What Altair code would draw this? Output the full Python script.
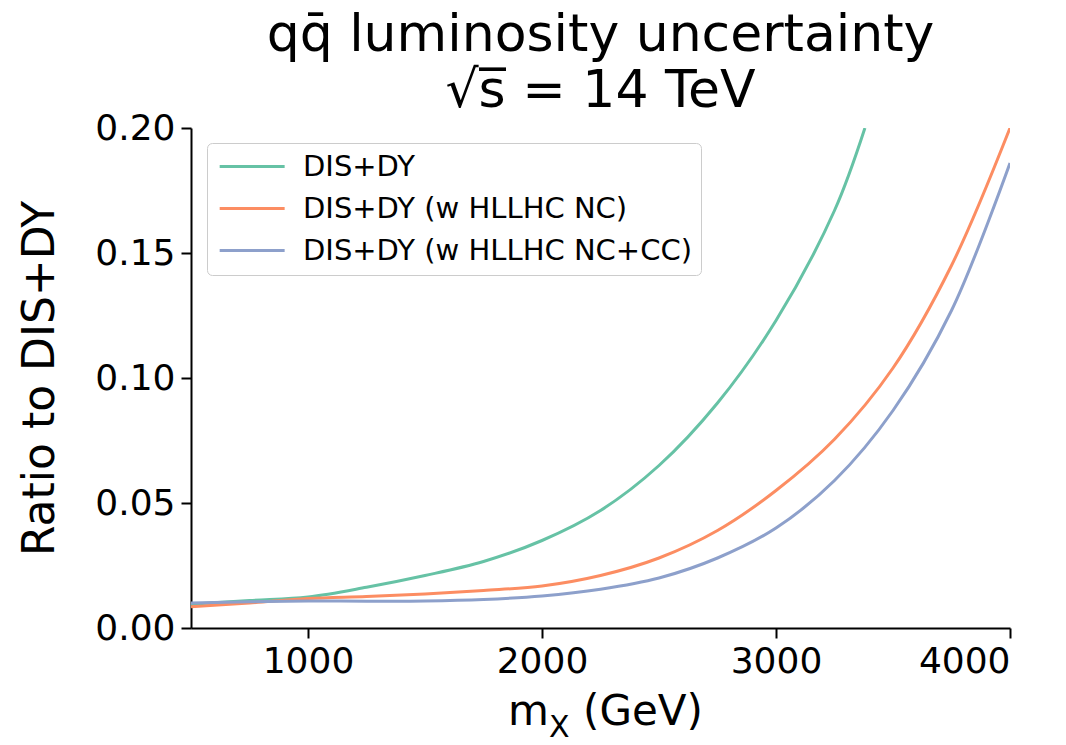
import altair as alt
import pandas as pd

# --- data ---
mass = [500, 750, 1000, 1250, 1500, 1750, 2000, 2250, 2500, 2750, 3000, 3250, 3500, 3750, 4000]
mass_dis = [500, 750, 1000, 1250, 1500, 1750, 2000, 2250, 2500, 2750, 3000, 3250, 3380]
dis_dy = [0.0095, 0.0110, 0.0124, 0.0163, 0.0210, 0.0266, 0.0350, 0.0470, 0.0650, 0.0900, 0.1230, 0.1670, 0.2000]
dis_dy_nc = [0.0085, 0.0100, 0.0118, 0.0126, 0.0136, 0.0150, 0.0168, 0.0210, 0.0280, 0.0390, 0.0550, 0.0755, 0.1040, 0.1450, 0.2000]
dis_dy_nccc = [0.0100, 0.0105, 0.0108, 0.0107, 0.0108, 0.0114, 0.0128, 0.0155, 0.0200, 0.0280, 0.0400, 0.0590, 0.0870, 0.1270, 0.1860]

series = ["DIS+DY", "DIS+DY (w HLLHC NC)", "DIS+DY (w HLLHC NC+CC)"]
colors = ["#66c2a5", "#fc8d62", "#8da0cb"]
x_ticks = [1000, 2000, 3000, 4000]
y_ticks = [0.0, 0.05, 0.10, 0.15, 0.20]
title_lines = ["qq̄ luminosity uncertainty", "√s̅ = 14 TeV"]
x_title_parts = ["m", "X", "(GeV)"]

rows = []
for m, v in zip(mass_dis, dis_dy):
    rows.append({"m": m, "v": v, "s": series[0]})
for m, v in zip(mass, dis_dy_nc):
    rows.append({"m": m, "v": v, "s": series[1]})
for m, v in zip(mass, dis_dy_nccc):
    rows.append({"m": m, "v": v, "s": series[2]})
df = pd.DataFrame(rows)

FONT = "DejaVu Sans"
W, H = 819, 500

lines = alt.Chart(df).mark_line(strokeWidth=3, interpolate="catmull-rom", clip=True).encode(
    x=alt.X("m:Q",
            scale=alt.Scale(domain=[500, 4000], nice=False, zero=False),
            axis=alt.Axis(values=x_ticks, format="d", title=None, labelPadding=6)),
    y=alt.Y("v:Q",
            scale=alt.Scale(domain=[0, 0.2], nice=False),
            axis=alt.Axis(values=y_ticks, format=".2f", title="Ratio to DIS+DY",
                          labelPadding=6, titlePadding=32)),
    color=alt.Color("s:N",
                    scale=alt.Scale(domain=series, range=colors),
                    legend=alt.Legend(title=None, orient="none", legendX=16, legendY=15,
                                      symbolType="M-1,0H5", symbolSize=469,
                                      symbolStrokeWidth=3, labelFont=FONT,
                                      labelFontSize=29, labelColor="black",
                                      strokeColor="#cccccc", fillColor="white",
                                      cornerRadius=5, padding=9, rowPadding=12,
                                      labelOffset=58, labelLimit=0)),
)

def title_part(txt, x, y, size):
    return alt.Chart(pd.DataFrame({"t": [txt]})).mark_text(
        align="left", baseline="alphabetic", font=FONT, fontSize=size, color="black"
    ).encode(x=alt.value(x), y=alt.value(y), text="t:N")

xt = (title_part(x_title_parts[0], 317, 597, 42)
      + title_part(x_title_parts[1], 358, 609, 30)
      + title_part(x_title_parts[2], 392, 597, 42))

chart = alt.layer(lines, xt).properties(
    width=W, height=H,
    title=alt.TitleParams(text=title_lines,
                          font=FONT, fontSize=52, fontWeight="normal",
                          anchor="middle", color="black", offset=-8, lineHeight=56),
    autosize=alt.AutoSizeParams(type="none"),
    padding={"left": 191, "top": 128, "right": 56, "bottom": 117},
).configure_view(stroke=None).configure_axis(
    grid=False, domainColor="black", domainWidth=2, tickColor="black",
    tickWidth=2, tickSize=10, labelFont=FONT, labelFontSize=36,
    labelColor="black", titleFont=FONT, titleFontSize=44,
    titleFontWeight="normal", titleColor="black",
)

chart.save("out.html", embed_options={"renderer": "svg", "actions": False})
